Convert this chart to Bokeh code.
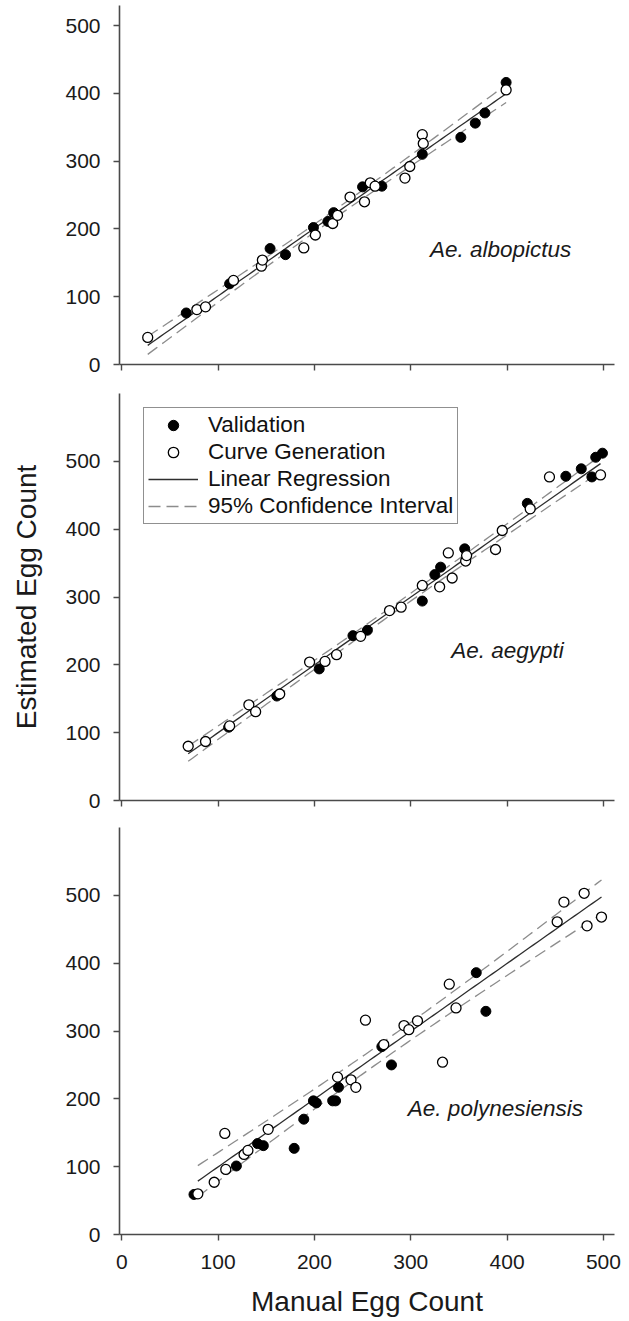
import numpy as np
from bokeh.plotting import figure
from bokeh.models import Range1d, FixedTicker, Label, Legend, LegendItem
from bokeh.layouts import column
from bokeh.embed import file_html
from bokeh.resources import INLINE

# ---------------- data ----------------
ticks = [0, 100, 200, 300, 400, 500]

# Ae. albopictus
alb_val_x = [67, 112, 154, 170, 199, 214, 220, 250, 270, 312, 352, 367, 377, 399]
alb_val_y = [76, 119, 171, 162, 202, 211, 224, 262, 263, 310, 335, 356, 371, 416]
alb_cur_x = [27, 78, 87, 116, 145, 146, 189, 201, 219, 224, 237, 252, 258, 263, 294, 299, 312, 313, 399]
alb_cur_y = [40, 81, 85, 124, 145, 154, 172, 191, 208, 220, 247, 240, 268, 263, 275, 292, 339, 326, 405]

# Ae. aegypti
aeg_val_x = [111, 161, 205, 240, 255, 312, 325, 331, 356, 421, 461, 477, 488, 492, 499]
aeg_val_y = [108, 154, 194, 243, 251, 294, 333, 344, 371, 438, 478, 489, 477, 506, 512]
aeg_cur_x = [69, 87, 112, 132, 139, 164, 195, 211, 223, 248, 278, 290, 312, 330, 339, 343,
             357, 358, 388, 395, 424, 444, 497]
aeg_cur_y = [80, 87, 110, 141, 131, 157, 204, 205, 215, 242, 280, 285, 317, 315, 365, 328,
             353, 361, 370, 398, 430, 477, 480]

# Ae. polynesiensis
pol_val_x = [75, 119, 141, 147, 179, 189, 199, 202, 219, 222, 225, 270, 280, 368, 378]
pol_val_y = [59, 101, 134, 131, 127, 170, 197, 194, 197, 197, 217, 277, 250, 386, 329]
pol_cur_x = [79, 96, 107, 108, 127, 131, 152, 224, 238, 243, 253, 272, 293, 298, 307, 333,
             340, 347, 452, 459, 480, 483, 498]
pol_cur_y = [60, 77, 149, 96, 118, 124, 155, 232, 228, 217, 316, 280, 308, 302, 315, 254,
             369, 334, 461, 490, 503, 455, 468]

species = ["Ae. albopictus", "Ae. aegypti", "Ae. polynesiensis"]
legend_labels = ["Validation", "Curve Generation", "Linear Regression", "95% Confidence Interval"]
x_title = "Manual Egg Count"
y_title = "Estimated Egg Count"

# t quantiles (0.975) by degrees of freedom
T975 = {15: 2.131, 16: 2.120, 17: 2.110, 18: 2.101, 19: 2.093, 20: 2.086,
        21: 2.080, 22: 2.074, 23: 2.069, 24: 2.064, 25: 2.060}

FONT = "Liberation Sans"
AXC = "#4a4a4a"


def regression(xs, ys):
    x = np.asarray(xs, float)
    y = np.asarray(ys, float)
    n = len(x)
    b, a = np.polyfit(x, y, 1)
    res = y - (a + b * x)
    s = np.sqrt((res ** 2).sum() / (n - 2))
    sxx = ((x - x.mean()) ** 2).sum()
    gx = np.linspace(x.min(), x.max(), 90)
    gy = a + b * gx
    hw = T975[n - 2] * s * np.sqrt(1.0 / n + (gx - x.mean()) ** 2 / sxx)
    return gx, gy, gy + hw, gy - hw


def panel(height, btop, bbottom, ymax, show_xlabels):
    p = figure(width=629, height=height,
               x_range=Range1d(-2.3, 511.5), y_range=Range1d(0, ymax),
               output_backend="svg", toolbar_location=None,
               min_border_left=119, min_border_right=15,
               min_border_top=btop, min_border_bottom=bbottom)
    p.outline_line_color = None
    p.xgrid.visible = False
    p.ygrid.visible = False
    p.background_fill_color = "white"
    p.border_fill_color = "white"
    for ax in (p.xaxis[0], p.yaxis[0]):
        ax.ticker = FixedTicker(ticks=ticks)
        ax.axis_line_color = AXC
        ax.axis_line_width = 1.6
        ax.major_tick_line_color = AXC
        ax.major_tick_line_width = 1.4
        ax.major_tick_out = 6
        ax.major_tick_in = 0
        ax.minor_tick_out = 0
        ax.minor_tick_in = 0
        ax.major_label_text_font = FONT
        ax.major_label_text_font_size = "21px"
        ax.major_label_text_color = "#1a1a1a"
    p.yaxis[0].major_label_standoff = 13
    if show_xlabels:
        p.xaxis[0].major_label_standoff = 14
        p.xaxis[0].axis_label = x_title
        p.xaxis[0].axis_label_text_font = FONT
        p.xaxis[0].axis_label_text_font_size = "28px"
        p.xaxis[0].axis_label_text_font_style = "normal"
        p.xaxis[0].axis_label_text_color = "#1a1a1a"
        p.xaxis[0].axis_label_standoff = 14
    else:
        # tick marks only, no tick labels on the upper panels
        p.xaxis[0].major_label_text_color = None
        p.xaxis[0].major_label_text_font_size = "10px"
        p.xaxis[0].major_label_standoff = 0
    return p


def draw(p, vx, vy, cx, cy, name, lx, ly):
    gx, gy, up, lo = regression(cx, cy)
    p.line(gx, lo, line_color="#8c8c8c", line_width=1.3, line_dash="12 6")
    r_up = p.line(gx, up, line_color="#8c8c8c", line_width=1.3, line_dash="12 6")
    r_fit = p.line(gx, gy, line_color="#2e2e2e", line_width=1.3)
    r_val = p.scatter(vx, vy, marker="circle", size=10, fill_color="black",
                      line_color="black", line_width=1)
    r_cur = p.scatter(cx, cy, marker="circle", size=10, fill_color="white",
                      line_color="black", line_width=1.3)
    p.add_layout(Label(x=lx, y=ly, text=name, text_font=FONT, text_font_size="22.5px",
                       text_font_style="italic", text_color="#1a1a1a",
                       text_baseline="middle", text_align="left"))
    return r_val, r_cur, r_fit, r_up


p1 = panel(382, 5, 18, 529.5, False)
draw(p1, alb_val_x, alb_val_y, alb_cur_x, alb_cur_y, species[0], 320, 170)

p2 = panel(436, 11, 18, 600, False)
rv, rc, rf, rd = draw(p2, aeg_val_x, aeg_val_y, aeg_cur_x, aeg_cur_y, species[1], 342, 221)
legend = Legend(items=[LegendItem(label=legend_labels[0], renderers=[rv]),
                       LegendItem(label=legend_labels[1], renderers=[rc]),
                       LegendItem(label=legend_labels[2], renderers=[rf]),
                       LegendItem(label=legend_labels[3], renderers=[rd])],
                location=(24, 276))
legend.label_text_font = FONT
legend.label_text_font_size = "22.5px"
legend.label_text_color = "#111111"
legend.glyph_width = 50
legend.glyph_height = 26
legend.label_height = 26
legend.spacing = 1
legend.padding = 4
legend.margin = 0
legend.label_standoff = 10
legend.border_line_color = "#222222"
legend.border_line_width = 1.3
legend.background_fill_color = "white"
legend.background_fill_alpha = 1
p2.add_layout(legend)
p2.yaxis[0].axis_label = y_title
p2.yaxis[0].axis_label_text_font = FONT
p2.yaxis[0].axis_label_text_font_size = "28px"
p2.yaxis[0].axis_label_text_font_style = "normal"
p2.yaxis[0].axis_label_text_color = "#1a1a1a"
p2.yaxis[0].axis_label_standoff = 20

p3 = panel(502, 9, 86, 600, True)
draw(p3, pol_val_x, pol_val_y, pol_cur_x, pol_cur_y, species[2], 297, 186)

layout = column(p1, p2, p3, spacing=0)
open("out.html", "w").write(file_html(layout, INLINE))
